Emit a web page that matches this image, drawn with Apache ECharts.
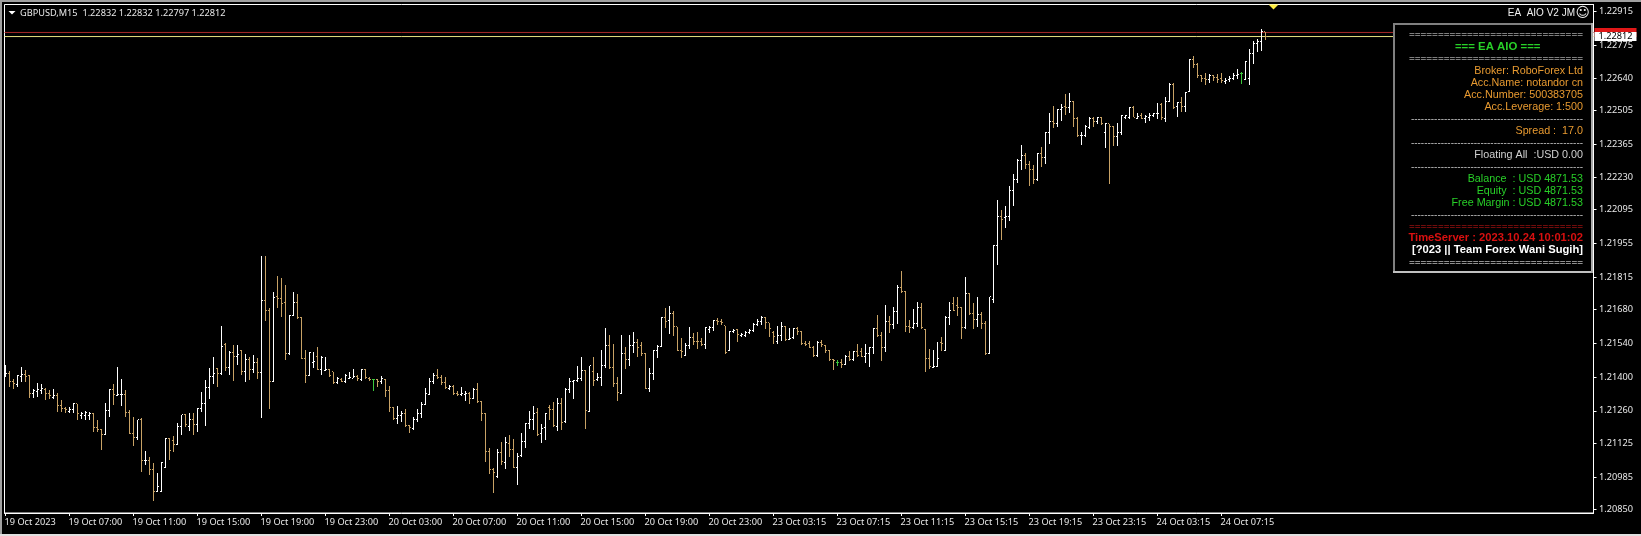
<!DOCTYPE html>
<html><head><meta charset="utf-8">
<style>html,body{margin:0;padding:0;background:#000;overflow:hidden}#c{width:1641px;height:536px}</style>
<script src="https://cdn.jsdelivr.net/npm/echarts@6/dist/echarts.min.js"></script>
</head><body><div id="c"></div>
<script>
const pointScale = 100000;
const opens = [121405,121413,121381,121369,121402,121410,121405,121333,121341,121344,
121347,121330,121315,121322,121284,121271,121258,121264,121289,121242,
121242,121242,121250,121192,121181,121160,121261,121347,121322,121326,
121329,121253,121167,121150,121222,121054,121056,121018,120925,120925,
121026,121145,121139,121120,121195,121243,121195,121222,121202,121268,
121291,121358,121402,121435,121416,121537,121438,121503,121485,121510,
121423,121474,121430,121460,121419,121717,121678,121381,121734,121727,
121709,121496,121656,121709,121648,121478,121405,121460,121485,121430,121428,121432,
121421,121377,121391,121380,121396,121396,121402,121388,121432,121396,
121388,121388,121380,121391,121344,121272,121228,121241,121247,121200,
121186,121225,121250,121286,121327,121382,121407,121399,121377,121352,
121360,121333,121327,121327,121333,121313,121349,121299,121247,121092,
121015,120987,121087,121045,121123,121101,121026,121073,121134,121206,
121225,121253,121164,121189,121275,121266,121194,121291,121214,121349,
121380,121385,121393,121429,121258,121421,121391,121399,121446,121529,
121440,121374,121333,121498,121471,121529,121545,121532,121496,121352,121413,121512,
121526,121648,121634,121662,121609,121512,121490,121532,121562,121548,
121548,121537,121598,121604,121634,121629,121612,121512,121587,121598,
121573,121573,121584,121593,121618,121631,121648,121626,121584,121546,
121571,121609,121557,121562,121601,121587,121540,121540,121524,121490,
121543,121532,121510,121471,121460,121460,121454,121485,121471,121504,
121504,121485,121499,121524,121601,121571,121524,121629,121618,121673,
121772,121756,121609,121604,121623,121689,121598,121479,121441,121443,
121543,121512,121648,121703,121698,121689,121606,121745,121664,121637,
121659,121623,121499,
121720,121944,122065,122063,122065,122173,122220,122300,122317,122281,
122262,122220,122328,122309,122414,122461,122450,122510,122524,122516,
122544,122474,122400,122400,122436,122472,122458,122477,122416,122450,
122439,122397,122416,122477,122477,122516,122474,122483,122474,122477,
122483,122491,122532,122474,122544,122613,122521,122538,122521,
122585,122715,122695,122649,122638,122635,122649,122643,122638,122624,122632,122638,122649,122657,122635,122638,122740,122784,122791,122832];
const highs = [121450,121424,121391,121409,121441,121430,121407,121349,121374,121372,
121355,121347,121349,121333,121305,121275,121275,121291,121289,121255,
121258,121255,121253,121220,121184,121294,121349,121372,121443,121391,
121347,121264,121236,121222,121229,121095,121067,121043,121004,121048,
121148,121148,121156,121208,121244,121246,121250,121253,121271,121338,
121388,121438,121485,121438,121612,121540,121506,121533,121533,121512,
121496,121482,121490,121478,121902,121902,121685,121753,121819,121811,
121782,121659,121753,121745,121648,121512,121504,121504,121526,121488,121485,121432,
121421,121399,121395,121413,121423,121434,121407,121434,121434,121399,
121392,121391,121405,121391,121363,121275,121280,121261,121268,121201,
121236,121266,121297,121355,121396,121416,121434,121409,121399,121367,
121367,121344,121360,121344,121338,121353,121377,121299,121253,121105,
121023,121101,121131,121150,121161,121143,121087,121170,121208,121261,
121280,121270,121206,121250,121284,121298,121313,121312,121353,121396,
121388,121446,121482,121429,121446,121482,121416,121512,121602,121575,
121537,121402,121575,121523,121576,121587,121557,121545,121501,121438,121512,121533,
121651,121687,121695,121673,121609,121562,121540,121606,121584,121587,
121561,121606,121612,121637,121645,121642,121612,121590,121601,121601,
121582,121589,121598,121623,121642,121653,121648,121626,121589,121612,
121629,121612,121604,121604,121606,121593,121548,121548,121529,121548,
121554,121532,121512,121474,121471,121474,121492,121507,121510,121537,
121521,121537,121526,121604,121658,121587,121699,121653,121689,121782,
121841,121758,121637,121684,121713,121709,121598,121515,121512,121546,
121565,121653,121711,121734,121734,121692,121814,121747,121706,121731,
121670,121634,121734,
121948,122134,122093,122110,122193,122242,122303,122363,122328,122296,
122281,122331,122356,122416,122497,122524,122513,122532,122574,122577,
122546,122477,122416,122444,122477,122477,122480,122477,122455,122450,
122441,122452,122486,122488,122519,122524,122494,122494,122487,122494,
122497,122535,122538,122560,122618,122618,122541,122560,122584,
122718,122732,122701,122653,122660,122657,122653,122657,122660,122639,122649,122660,122677,122663,122710,122759,122793,122801,122842,122832];
const lows = [121402,121360,121352,121360,121380,121381,121315,121312,121319,121330,
121305,121308,121311,121257,121257,121253,121253,121253,121222,121225,
121220,121220,121174,121174,121098,121159,121236,121284,121322,121280,
121236,121164,121114,121139,121008,121034,120994,120888,120925,120924,
121023,121056,121091,121120,121160,121192,121177,121160,121174,121257,
121197,121311,121372,121360,121409,121427,121407,121383,121450,121407,
121380,121388,121416,121394,121231,121634,121268,121380,121687,121648,
121471,121493,121653,121642,121474,121377,121405,121436,121430,121409,121427,121402,
121371,121371,121380,121377,121391,121395,121382,121385,121391,121385,
121344,121358,121371,121319,121257,121222,121206,121214,121194,121167,
121181,121214,121230,121283,121324,121371,121391,121367,121349,121347,
121326,121322,121322,121302,121288,121308,121294,121219,121048,120998,
120921,120980,121036,121020,121070,121022,120953,121067,121106,121183,
121181,121156,121125,121139,121222,121192,121178,121181,121208,121333,
121311,121380,121382,121186,121257,121364,121385,121363,121438,121435,
121360,121302,121330,121435,121446,121501,121482,121487,121349,121340,121388,121479,
121524,121604,121579,121571,121510,121479,121488,121518,121535,121518,
121529,121515,121582,121590,121615,121615,121496,121510,121582,121546,
121568,121568,121579,121587,121612,121615,121601,121568,121537,121537,
121551,121551,121554,121559,121576,121535,121529,121521,121482,121485,
121526,121501,121468,121430,121446,121438,121452,121468,121468,121482,
121482,121460,121443,121496,121565,121468,121504,121582,121598,121618,
121750,121587,121582,121601,121609,121601,121421,121435,121438,121441,
121510,121510,121616,121676,121653,121559,121598,121656,121598,121609,
121598,121493,121496,
121708,121866,121969,122018,122049,122110,122206,122259,122264,122193,
122201,122211,122270,122284,122367,122433,122436,122463,122487,122497,
122439,122397,122364,122397,122427,122439,122450,122445,122350,122201,
122358,122358,122403,122469,122469,122477,122469,122469,122455,122463,
122477,122472,122466,122459,122541,122513,122477,122499,122499,
122584,122681,122639,122624,122613,122618,122628,122621,122618,122616,122625,122630,122635,122616,122632,122612,122699,122746,122753,122797];
const closes = [121413,121381,121372,121407,121410,121402,121333,121343,121347,121352,
121330,121322,121322,121284,121271,121264,121264,121289,121247,121250,
121253,121250,121192,121181,121160,121261,121347,121326,121326,121329,
121253,121167,121150,121222,121056,121056,121018,120925,120946,121047,
121145,121095,121119,121197,121243,121202,121222,121202,121268,121291,
121358,121402,121413,121416,121526,121438,121503,121485,121492,121423,
121474,121430,121460,121419,121717,121678,121381,121729,121727,121703,
121496,121656,121709,121648,121478,121405,121501,121465,121432,121482,121432,121405,
121377,121393,121382,121405,121399,121402,121396,121432,121399,121388,
121388,121380,121393,121344,121272,121230,121241,121247,121200,121192,
121225,121250,121286,121330,121382,121407,121399,121377,121355,121360,
121333,121327,121330,121333,121311,121349,121299,121247,121092,121015,
121006,121087,121048,121128,121101,121026,121070,121134,121206,121225,
121250,121161,121186,121250,121266,121200,121291,121211,121349,121380,
121385,121393,121429,121261,121446,121385,121399,121446,121529,121440,
121374,121338,121498,121474,121529,121545,121523,121496,121352,121416,121512,121526,
121648,121631,121662,121609,121512,121507,121532,121562,121548,121546,
121537,121604,121604,121634,121629,121626,121501,121587,121595,121576,
121576,121584,121593,121618,121631,121648,121626,121601,121568,121571,
121609,121554,121559,121601,121587,121540,121537,121524,121490,121543,
121535,121510,121471,121468,121460,121454,121485,121474,121504,121488,
121485,121499,121524,121601,121571,121524,121629,121618,121673,121772,
121756,121609,121604,121623,121689,121604,121479,121443,121443,121479,
121540,121648,121678,121678,121689,121606,121745,121664,121637,121659,
121623,121499,121732,
121944,122065,122052,122065,122173,122220,122300,122317,122281,122262,
122220,122328,122309,122414,122461,122452,122510,122519,122519,122544,
122474,122400,122403,122439,122472,122458,122477,122452,122450,122439,
122397,122416,122483,122483,122516,122477,122480,122474,122480,122483,
122491,122494,122477,122544,122613,122516,122538,122521,122579,
122715,122695,122649,122638,122635,122649,122643,122632,122628,122630,122638,122649,122654,122657,122707,122740,122784,122791,122832,122812];

const priceTicks = [1.22915,1.22775,1.22640,1.22505,1.22365,1.22230,1.22095,1.21955,1.21815,1.21680,1.21540,1.21400,1.21260,1.21125,1.20985,1.20850];
const timeLabels = ['19 Oct 2023','19 Oct 07:00','19 Oct 11:00','19 Oct 15:00','19 Oct 19:00','19 Oct 23:00','20 Oct 03:00','20 Oct 07:00','20 Oct 11:00','20 Oct 15:00','20 Oct 19:00','20 Oct 23:00','23 Oct 03:15','23 Oct 07:15','23 Oct 11:15','23 Oct 15:15','23 Oct 19:15','23 Oct 23:15','24 Oct 03:15','24 Oct 07:15'];
const barsPerLabel = 16;
const bidPrice = 1.22812;
const askPrice = 1.22829;
const headerText = 'GBPUSD,M15  1.22832 1.22832 1.22797 1.22812';

const EQ = '==============================';
const DASH = '----------------------------------------------------';
const panelLines = [
 [EQ,34.3,'#e0e0e0','eq'],
 ['=== EA AIO ===',46.7,'#28d028','title'],
 [EQ,58.3,'#e0e0e0','eq'],
 ['Broker: RoboForex Ltd',70.6,'#e89a30','t'],
 ['Acc.Name: notandor cn',82.6,'#e89a30','t'],
 ['Acc.Number: 500383705',94.6,'#e89a30','t'],
 ['Acc.Leverage: 1:500',106.6,'#e89a30','t'],
 [DASH,119.3,'#d8d8d8','eq'],
 ['Spread :  17.0',130.6,'#e89a30','t'],
 [DASH,143.3,'#d8d8d8','eq'],
 ['Floating All  :USD 0.00',154.6,'#d0d0d0','t'],
 [DASH,167.3,'#d8d8d8','eq'],
 ['Balance  : USD 4871.53',178.6,'#28d028','t'],
 ['Equity  : USD 4871.53',190.6,'#28d028','t'],
 ['Free Margin : USD 4871.53',202.6,'#28d028','t'],
 [DASH,215.3,'#d8d8d8','eq'],
 [EQ,226,'#e01818','eq'],
 ['TimeServer : 2023.10.24 10:01:02',238,'#d81010','b'],
 ['[?023 || Team Forex Wani Sugih]',250,'#ffffff','b'],
 [EQ,262.3,'#ffffff','eq']
];

const FONT = '"Liberation Sans", Arial, sans-serif';
const AXIS_FONT = '"Noto Sans", sans-serif';
const UP = '#ffffff', DOWN = '#c8a265', FLAT = '#3cc83c';

const rows = opens.map((o, i) => [i, o / pointScale, highs[i] / pointScale, lows[i] / pointScale, closes[i] / pointScale]);

function renderBar(params, api) {
  const i = api.value(0);
  const o = api.value(1), h = api.value(2), l = api.value(3), c = api.value(4);
  const x = Math.floor(api.coord([i, o])[0]);
  const yO = Math.floor(api.coord([i, o])[1]);
  const yH = Math.round(api.coord([i, h])[1]);
  const yL = Math.round(api.coord([i, l])[1]);
  const yC = Math.floor(api.coord([i, c])[1]);
  const col = c > o ? UP : (c < o ? DOWN : FLAT);
  const rect = (a, b, w, hh) => ({type: 'rect', shape: {x: a, y: b, width: w, height: hh}, style: {fill: col}});
  return {type: 'group', children: [
    rect(x, yH, 1, Math.max(1, yL - yH)),
    rect(x - 1, yO, 1, 1),
    rect(x + 1, yC, 1, 1)
  ]};
}

const axisColor = '#ffffff';
const tickXs = timeLabels.map((_, k) => k * barsPerLabel);
const X_MIN = -0.25, X_MAX = 397;

function priceLine(name, price, lineColor, textColor, tagColor) {
  return {
    type: 'line', name, data: [[X_MIN, price], [X_MAX, price]], symbol: 'none', silent: true, z: 1,
    lineStyle: {color: lineColor, width: 1},
    endLabel: {show: true, distance: 1, formatter: price.toFixed(5), color: textColor, backgroundColor: tagColor,
      fontFamily: AXIS_FONT, fontSize: 9.2, padding: [0, 4, 0, 4]}
  };
}

const graphics = [
  {type: 'rect', shape: {x: 0, y: 0, width: 2, height: 536}, style: {fill: '#a0a0a0'}, z: 50},
  {type: 'rect', shape: {x: 0, y: 0, width: 1641, height: 2}, style: {fill: '#a0a0a0'}, z: 50},
  {type: 'rect', shape: {x: 0, y: 534, width: 1641, height: 2}, style: {fill: '#e0e0e0'}, z: 50},
  {type: 'polygon', shape: {points: [[8.5, 11], [15.5, 11], [12, 14.5]]}, style: {fill: '#ffffff'}, z: 50},
  {type: 'text', x: 20, y: 13, style: {text: headerText, font: '9.2px ' + AXIS_FONT, fill: '#e8e8e8', verticalAlign: 'middle'}, z: 50},
  {type: 'text', x: 1575, y: 13.3, style: {text: 'EA  AIO V2 JM', font: '10px ' + FONT, fill: '#f0f0f0', align: 'right', verticalAlign: 'middle'}, z: 50},
  {type: 'text', x: 1582.7, y: 13.3, style: {text: '☺', font: '14px "DejaVu Sans"', fill: '#f0f0f0', align: 'center', verticalAlign: 'middle'}, z: 50},
  {type: 'rect', shape: {x: 1394, y: 24, width: 198, height: 248}, style: {fill: '#000', stroke: '#808080', lineWidth: 2}, z: 60},
  {type: 'line', shape: {x1: 1393, y1: 272, x2: 1593, y2: 272}, style: {stroke: '#c0c0c0', lineWidth: 2}, z: 61},
  {type: 'line', shape: {x1: 1592, y1: 23, x2: 1592, y2: 273}, style: {stroke: '#a8a8a8', lineWidth: 2}, z: 61}
];
panelLines.forEach(([text, y, fill, kind]) => {
  const font = kind === 'title' ? 'bold 11.4px ' + FONT
    : kind === 'b' ? 'bold 11.2px ' + FONT
    : kind === 'eq' ? '9.95px ' + FONT : '10.75px ' + FONT;
  graphics.push({type: 'text', x: kind === 'title' ? 1497.7 : 1583, y,
    style: {text, font, fill, align: kind === 'title' ? 'center' : 'right', verticalAlign: 'middle'}, z: 62});
});

const chart = echarts.init(document.getElementById('c'), null, {width: 1641, height: 536});
chart.setOption({
  animation: false,
  backgroundColor: '#000000',
  grid: {left: 4.5, top: 4.5, width: 1589, height: 508.5, show: true, backgroundColor: '#000', borderColor: '#ffffff', borderWidth: 1, containLabel: false},
  xAxis: {
    type: 'value', min: X_MIN, max: X_MAX, splitLine: {show: false},
    axisLine: {show: true, onZero: false, lineStyle: {color: axisColor}},
    axisTick: {show: true, length: 3, lineStyle: {color: axisColor}, customValues: tickXs},
    axisLabel: {color: '#e8e8e8', fontFamily: AXIS_FONT, fontSize: 9.2, align: 'left', margin: 5,
      customValues: tickXs.map(v => v - 0.25),
      formatter: v => timeLabels[Math.round((v + 0.25) / barsPerLabel)] || ''}
  },
  yAxis: {
    type: 'value', position: 'right', min: 1.208363, max: 1.229449, scale: true, splitLine: {show: false},
    axisLine: {show: true, onZero: false, lineStyle: {color: axisColor}},
    axisTick: {show: true, length: 3, lineStyle: {color: axisColor}, customValues: priceTicks},
    axisLabel: {color: '#e8e8e8', fontFamily: AXIS_FONT, fontSize: 9.2, margin: 5.5, padding: [5, 0, 0, 0],
      customValues: priceTicks, formatter: v => v.toFixed(5)}
  },
  series: [
    {
      type: 'custom', renderItem: renderBar, data: rows, silent: true, z: 2,
      encode: {x: 0, y: [1, 2, 3, 4]}, clip: true,
      markPoint: {
        silent: true, animation: false,
        data: [{coord: [317, 1.229345], symbol: 'triangle', symbolRotate: 180, symbolSize: [10, 5], itemStyle: {color: '#ffee40'}, label: {show: false}}]
      }
    },
    priceLine('ask', askPrice, '#a82828', '#e01818', '#e01818'),
    priceLine('bid', bidPrice, '#e8e080', '#000000', '#ffffff')
  ],
  graphic: {elements: graphics}
});
</script></body></html>
